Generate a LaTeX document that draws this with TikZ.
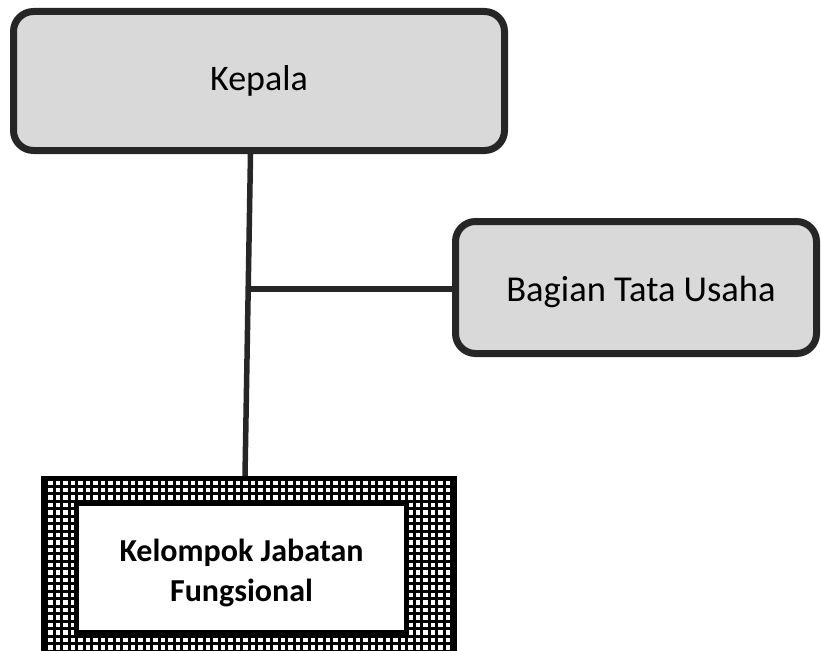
\documentclass[tikz,border=0pt]{standalone}
\usepackage{fontspec}
\setmainfont{Carlito}
\definecolor{boxfill}{HTML}{D9D9D9}
\definecolor{boxline}{HTML}{262626}
\begin{document}
\begin{tikzpicture}[x=1pt,y=-1pt,
  unit/.style={draw=boxline, line width=7pt, fill=boxfill, rounded corners=20pt,
    inner sep=0pt, font=\fontsize{36}{43}\selectfont},
  caption/.style={inner sep=0pt, font=\fontsize{36.5}{43}\selectfont},
  link/.style={draw=boxline, line width=5.5pt},
  gridframe/.style={draw=black, line width=5pt, fill=white, inner sep=0pt,
    path picture={\draw[black, line width=3pt]
      (path picture bounding box.south west) grid[step=7.5pt]
      (path picture bounding box.north east);}},
  fungsi/.style={draw=black, line width=5pt, fill=white, inner sep=0pt},
  fungsitext/.style={inner sep=0pt, align=center,
    font=\fontsize{32}{40}\selectfont\bfseries}]
\useasboundingbox (0,0) rectangle (821,650);

% head of office
\node[unit, minimum width=491pt, minimum height=139pt] (kepala) at (259,81) {Kepala};

% administration unit
\node[unit, minimum width=361pt, minimum height=132pt] (bagian) at (636,287.5) {};
\node[caption] (bagiantext) at ([xshift=5pt,yshift=-4pt]bagian.center) {Bagian Tata Usaha};

% functional group: hatched frame with a white box inside
\node[gridframe, minimum width=411pt, minimum height=195pt] (jfouter) at (249,576) {};
\node[fungsi, minimum width=330pt, minimum height=129pt] (jf) at (241.5,568) {};
\node[fungsitext] (jftext) at ([yshift=-5pt]jf.center) {Kelompok Jabatan\\Fungsional};

% connectors
\draw[link] ([xshift=-8.5pt]kepala.south) -- ([xshift=-4pt]jfouter.north);
\coordinate (junc) at (248,289);
\draw[link] (junc) -- (junc -| bagian.west);
\end{tikzpicture}
\end{document}
